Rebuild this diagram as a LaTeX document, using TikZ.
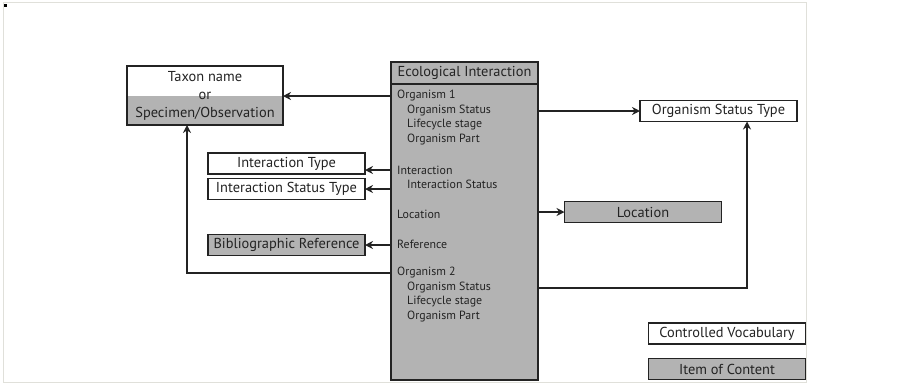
\documentclass[tikz,border=0pt]{standalone}
\usepackage{fontspec}
\setmainfont{PT Sans}
\usepackage{tikz}
\usetikzlibrary{positioning,arrows.meta}
\definecolor{itemgray}{RGB}{179,179,179}
\definecolor{framegray}{RGB}{224,224,218}
\definecolor{inkgray}{RGB}{35,35,35}
\tikzstyle{vocab}=[%
      rectangle, draw=inkgray, line width=1.3pt, fill=white, outer sep=0pt, text=inkgray,
      minimum height=21pt, minimum width=157pt, inner sep=0pt, font=\fontsize{14.4}{16}\selectfont
]
\tikzstyle{item}=[vocab, fill=itemgray]
\tikzstyle{field}=[anchor=west, inner sep=0pt, text=inkgray, font=\fontsize{11.9}{13}\selectfont]
\tikzstyle{link}=[draw=inkgray, line width=1.2pt, -{Stealth[length=8pt,width=8pt]}]

\begin{document}
\begin{tikzpicture}[x=1pt, y=-1pt]
    \useasboundingbox (0,0) rectangle (922,384);
    \draw[framegray, line width=1pt] (3,2) rectangle (806,382);
    \fill (4,4) rectangle (7,7);

    \node[vocab, minimum width=156pt, minimum height=59pt, align=center,
          font=\fontsize{14.4}{18}\selectfont,
          path picture={\fill[itemgray] (path picture bounding box.west) rectangle (path picture bounding box.south east);}]
          (taxon) at (205,95.5) {Taxon name\\or\\Specimen/Observation};
    \node[item, minimum width=147pt, minimum height=22pt] (eco) at (464.5,73) {Ecological Interaction};
    \node[item, minimum width=147pt, minimum height=296pt, below=0pt of eco] (body) {};

    \node[field] (orgA)       at (397,96)  {Organism 1};
    \node[field] (orgAstatus) at (407,111) {Organism Status};
    \node[field] (orgAstage)  at (407,125) {Lifecycle stage};
    \node[field] (orgApart)   at (407,140) {Organism Part};
    \node[field] (inter)      at (397,170) {Interaction};
    \node[field] (interstat)  at (407,184) {Interaction Status};
    \node[field] (loc)        at (397,214) {Location};
    \node[field] (ref)        at (397,244) {Reference};
    \node[field] (orgB)       at (397,273) {Organism 2};
    \node[field] (orgBstatus) at (407,288) {Organism Status};
    \node[field] (orgBstage)  at (407,302) {Lifecycle stage};
    \node[field] (orgBpart)   at (407,317) {Organism Part};

    \node[vocab] (itype)  at (286.5,163.5) {Interaction Type};
    \node[vocab] (istype) at (286.5,189)   {Interaction Status Type};
    \node[item]  (bib)    at (286.5,245)   {Bibliographic Reference};
    \node[vocab] (ost)    at (718.5,111)   {Organism Status Type};
    \node[item]  (place)  at (643,212)     {Location};

    \node[vocab] (cv)  at (727,333.5) {Controlled Vocabulary};
    \node[item]  (ioc) at (727,369)   {Item of Content};

    \coordinate (taxonfoot) at ([xshift=-18pt]taxon.south);
    \coordinate (ostfoot)   at ([xshift=28.5pt]ost.south);

    \path (body.west |- orgA)  edge[link] (taxon.east |- orgA)
          (body.west |- inter) edge[link] (itype.east |- inter)
          (body.west |- istype) edge[link] (istype)
          (body.west |- bib)   edge[link] (bib)
          (body.east |- ost)   edge[link] (ost)
          (body.east |- place) edge[link] (place)
    ;
    \draw[link] (body.west |- orgB) -| (taxonfoot);
    \draw[link] (body.east |- orgBstatus) -| (ostfoot);
\end{tikzpicture}
\end{document}
